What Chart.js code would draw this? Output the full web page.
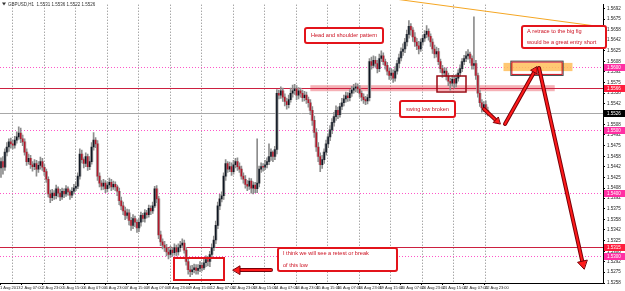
<!DOCTYPE html>
<html>
<head>
<meta charset="utf-8">
<script src="https://cdn.jsdelivr.net/npm/chart.js@4.4.1/dist/chart.umd.min.js"></script>
<style>
  html, body { margin: 0; padding: 0; background: #fff; }
  canvas { display: block; }
</style>
</head>
<body>
<canvas id="chart" width="625" height="291"></canvas>
<script>
// GBPUSD H1 candles
const symbol = 'GBPUSD,H1';

const opens = [
  1.5440, 1.5450, 1.5441, 1.5465, 1.5473, 1.5481, 1.5478, 1.5476, 1.5484, 1.5489,
  1.5495, 1.5486, 1.5481, 1.5465, 1.5450, 1.5455, 1.5445, 1.5442, 1.5447, 1.5438,
  1.5444, 1.5450, 1.5441, 1.5434, 1.5422, 1.5399, 1.5393, 1.5400, 1.5396, 1.5407,
  1.5400, 1.5394, 1.5403, 1.5399, 1.5407, 1.5402, 1.5397, 1.5403, 1.5408, 1.5411,
  1.5427, 1.5462, 1.5453, 1.5447, 1.5458, 1.5442, 1.5450, 1.5473, 1.5484, 1.5478,
  1.5427, 1.5416, 1.5411, 1.5416, 1.5407, 1.5413, 1.5417, 1.5410, 1.5414, 1.5410,
  1.5403, 1.5388, 1.5380, 1.5372, 1.5365, 1.5369, 1.5357, 1.5349, 1.5360, 1.5354,
  1.5345, 1.5354, 1.5365, 1.5360, 1.5369, 1.5366, 1.5376, 1.5372, 1.5380, 1.5407,
  1.5391, 1.5334, 1.5323, 1.5318, 1.5314, 1.5307, 1.5303, 1.5310, 1.5306, 1.5314,
  1.5307, 1.5314, 1.5318, 1.5321, 1.5310, 1.5292, 1.5279, 1.5276, 1.5279, 1.5282,
  1.5278, 1.5281, 1.5286, 1.5282, 1.5290, 1.5295, 1.5292, 1.5303, 1.5314, 1.5326,
  1.5349, 1.5380, 1.5391, 1.5396, 1.5427, 1.5447, 1.5438, 1.5442, 1.5434, 1.5445,
  1.5450, 1.5442, 1.5438, 1.5427, 1.5422, 1.5414, 1.5411, 1.5419, 1.5408, 1.5413,
  1.5407, 1.5416, 1.5438, 1.5442, 1.5441, 1.5445, 1.5450, 1.5458, 1.5465, 1.5458,
  1.5469, 1.5558, 1.5555, 1.5562, 1.5552, 1.5545, 1.5540, 1.5548, 1.5558, 1.5562,
  1.5565, 1.5555, 1.5562, 1.5558, 1.5551, 1.5555, 1.5548, 1.5543, 1.5531, 1.5515,
  1.5496, 1.5473, 1.5458, 1.5445, 1.5453, 1.5465, 1.5478, 1.5489, 1.5500, 1.5512,
  1.5521, 1.5531, 1.5524, 1.5537, 1.5543, 1.5549, 1.5554, 1.5551, 1.5558, 1.5563,
  1.5566, 1.5568, 1.5565, 1.5558, 1.5552, 1.5548, 1.5546, 1.5551, 1.5608, 1.5602,
  1.5610, 1.5605, 1.5597, 1.5613, 1.5617, 1.5608, 1.5602, 1.5593, 1.5586, 1.5590,
  1.5582, 1.5593, 1.5605, 1.5614, 1.5624, 1.5628, 1.5639, 1.5651, 1.5664, 1.5658,
  1.5647, 1.5639, 1.5633, 1.5628, 1.5639, 1.5645, 1.5651, 1.5656, 1.5648, 1.5639,
  1.5628, 1.5620, 1.5624, 1.5608, 1.5597, 1.5590, 1.5593, 1.5585, 1.5577, 1.5574,
  1.5580, 1.5574, 1.5582, 1.5590, 1.5597, 1.5608, 1.5613, 1.5617, 1.5620, 1.5613,
  1.5602, 1.5605, 1.5586, 1.5558, 1.5543, 1.5535, 1.5540, 1.5531
];
const highs = [
  1.5456, 1.5458, 1.5470, 1.5480, 1.5486, 1.5487, 1.5484, 1.5490, 1.5497, 1.5505,
  1.5503, 1.5492, 1.5486, 1.5470, 1.5462, 1.5460, 1.5450, 1.5453, 1.5452, 1.5450,
  1.5457, 1.5455, 1.5446, 1.5438, 1.5426, 1.5405, 1.5406, 1.5404, 1.5413, 1.5410,
  1.5406, 1.5408, 1.5407, 1.5412, 1.5410, 1.5405, 1.5409, 1.5414, 1.5418, 1.5432,
  1.5470, 1.5468, 1.5456, 1.5464, 1.5462, 1.5458, 1.5480, 1.5496, 1.5488, 1.5483,
  1.5432, 1.5420, 1.5422, 1.5420, 1.5418, 1.5424, 1.5422, 1.5419, 1.5418, 1.5413,
  1.5408, 1.5394, 1.5386, 1.5378, 1.5375, 1.5374, 1.5362, 1.5366, 1.5364, 1.5358,
  1.5360, 1.5370, 1.5368, 1.5374, 1.5373, 1.5381, 1.5380, 1.5386, 1.5411, 1.5412,
  1.5395, 1.5340, 1.5328, 1.5324, 1.5319, 1.5313, 1.5316, 1.5314, 1.5320, 1.5318,
  1.5320, 1.5324, 1.5328, 1.5326, 1.5314, 1.5297, 1.5285, 1.5286, 1.5288, 1.5287,
  1.5287, 1.5292, 1.5290, 1.5296, 1.5301, 1.5300, 1.5308, 1.5320, 1.5332, 1.5356,
  1.5386, 1.5398, 1.5402, 1.5432, 1.5453, 1.5450, 1.5449, 1.5448, 1.5452, 1.5455,
  1.5456, 1.5448, 1.5443, 1.5432, 1.5428, 1.5420, 1.5424, 1.5423, 1.5418, 1.5417,
  1.5486, 1.5443, 1.5448, 1.5447, 1.5452, 1.5456, 1.5478, 1.5470, 1.5467, 1.5474,
  1.5564, 1.5563, 1.5568, 1.5566, 1.5557, 1.5550, 1.5555, 1.5566, 1.5571, 1.5572,
  1.5570, 1.5567, 1.5566, 1.5563, 1.5561, 1.5560, 1.5552, 1.5548, 1.5537, 1.5522,
  1.5502, 1.5480, 1.5464, 1.5460, 1.5470, 1.5484, 1.5494, 1.5507, 1.5518, 1.5528,
  1.5538, 1.5536, 1.5542, 1.5550, 1.5555, 1.5560, 1.5559, 1.5564, 1.5569, 1.5572,
  1.5574, 1.5573, 1.5570, 1.5562, 1.5557, 1.5553, 1.5556, 1.5613, 1.5615, 1.5617,
  1.5616, 1.5610, 1.5620, 1.5625, 1.5622, 1.5612, 1.5607, 1.5598, 1.5597, 1.5595,
  1.5600, 1.5610, 1.5620, 1.5630, 1.5636, 1.5645, 1.5658, 1.5673, 1.5668, 1.5662,
  1.5654, 1.5645, 1.5640, 1.5644, 1.5650, 1.5657, 1.5665, 1.5660, 1.5652, 1.5644,
  1.5634, 1.5631, 1.5629, 1.5612, 1.5602, 1.5598, 1.5598, 1.5590, 1.5582, 1.5586,
  1.5585, 1.5588, 1.5595, 1.5603, 1.5613, 1.5618, 1.5624, 1.5627, 1.5623, 1.5617,
  1.5679, 1.5610, 1.5590, 1.5563, 1.5548, 1.5545, 1.5546, 1.5536
];
const lows = [
  1.5425, 1.5430, 1.5436, 1.5459, 1.5466, 1.5471, 1.5470, 1.5471, 1.5479, 1.5485,
  1.5480, 1.5475, 1.5460, 1.5444, 1.5446, 1.5439, 1.5435, 1.5437, 1.5427, 1.5433,
  1.5438, 1.5436, 1.5428, 1.5417, 1.5394, 1.5385, 1.5388, 1.5390, 1.5391, 1.5394,
  1.5388, 1.5390, 1.5393, 1.5395, 1.5397, 1.5390, 1.5393, 1.5399, 1.5404, 1.5407,
  1.5422, 1.5448, 1.5440, 1.5442, 1.5436, 1.5437, 1.5446, 1.5468, 1.5472, 1.5420,
  1.5410, 1.5405, 1.5406, 1.5401, 1.5402, 1.5408, 1.5404, 1.5406, 1.5404, 1.5396,
  1.5382, 1.5374, 1.5366, 1.5358, 1.5360, 1.5350, 1.5341, 1.5344, 1.5347, 1.5338,
  1.5339, 1.5348, 1.5355, 1.5354, 1.5361, 1.5362, 1.5366, 1.5368, 1.5377, 1.5385,
  1.5328, 1.5317, 1.5312, 1.5308, 1.5301, 1.5296, 1.5299, 1.5300, 1.5302, 1.5301,
  1.5302, 1.5308, 1.5314, 1.5305, 1.5286, 1.5272, 1.5268, 1.5271, 1.5274, 1.5272,
  1.5272, 1.5276, 1.5277, 1.5279, 1.5284, 1.5285, 1.5284, 1.5298, 1.5309, 1.5320,
  1.5344, 1.5374, 1.5386, 1.5390, 1.5420, 1.5433, 1.5434, 1.5428, 1.5430, 1.5440,
  1.5436, 1.5433, 1.5422, 1.5416, 1.5408, 1.5404, 1.5406, 1.5400, 1.5399, 1.5401,
  1.5401, 1.5410, 1.5433, 1.5435, 1.5437, 1.5440, 1.5445, 1.5452, 1.5450, 1.5453,
  1.5462, 1.5549, 1.5550, 1.5545, 1.5538, 1.5533, 1.5535, 1.5544, 1.5552, 1.5556,
  1.5548, 1.5549, 1.5552, 1.5545, 1.5546, 1.5542, 1.5536, 1.5524, 1.5507, 1.5488,
  1.5466, 1.5450, 1.5434, 1.5439, 1.5447, 1.5460, 1.5472, 1.5483, 1.5494, 1.5506,
  1.5515, 1.5518, 1.5520, 1.5532, 1.5538, 1.5544, 1.5545, 1.5546, 1.5553, 1.5558,
  1.5560, 1.5559, 1.5552, 1.5546, 1.5542, 1.5540, 1.5541, 1.5546, 1.5596, 1.5598,
  1.5600, 1.5590, 1.5592, 1.5608, 1.5603, 1.5596, 1.5587, 1.5580, 1.5580, 1.5575,
  1.5577, 1.5588, 1.5598, 1.5609, 1.5618, 1.5622, 1.5633, 1.5645, 1.5650, 1.5640,
  1.5632, 1.5627, 1.5620, 1.5624, 1.5634, 1.5640, 1.5646, 1.5642, 1.5632, 1.5621,
  1.5614, 1.5615, 1.5603, 1.5591, 1.5583, 1.5585, 1.5579, 1.5570, 1.5563, 1.5569,
  1.5566, 1.5568, 1.5577, 1.5585, 1.5592, 1.5603, 1.5608, 1.5612, 1.5606, 1.5596,
  1.5596, 1.5580, 1.5552, 1.5537, 1.5528, 1.5529, 1.5524, 1.5522
];
const closes = [
  1.5450, 1.5441, 1.5465, 1.5473, 1.5481, 1.5478, 1.5476, 1.5484, 1.5489, 1.5495,
  1.5486, 1.5481, 1.5465, 1.5450, 1.5455, 1.5445, 1.5442, 1.5447, 1.5438, 1.5444,
  1.5450, 1.5441, 1.5434, 1.5422, 1.5399, 1.5393, 1.5400, 1.5396, 1.5407, 1.5400,
  1.5394, 1.5403, 1.5399, 1.5407, 1.5402, 1.5397, 1.5403, 1.5408, 1.5411, 1.5427,
  1.5462, 1.5453, 1.5447, 1.5458, 1.5442, 1.5450, 1.5473, 1.5484, 1.5478, 1.5427,
  1.5416, 1.5411, 1.5416, 1.5407, 1.5413, 1.5417, 1.5410, 1.5414, 1.5410, 1.5403,
  1.5388, 1.5380, 1.5372, 1.5365, 1.5369, 1.5357, 1.5349, 1.5360, 1.5354, 1.5345,
  1.5354, 1.5365, 1.5360, 1.5369, 1.5366, 1.5376, 1.5372, 1.5380, 1.5407, 1.5391,
  1.5334, 1.5323, 1.5318, 1.5314, 1.5307, 1.5303, 1.5310, 1.5306, 1.5314, 1.5307,
  1.5314, 1.5318, 1.5321, 1.5310, 1.5292, 1.5279, 1.5276, 1.5279, 1.5282, 1.5278,
  1.5281, 1.5286, 1.5282, 1.5290, 1.5295, 1.5292, 1.5303, 1.5314, 1.5326, 1.5349,
  1.5380, 1.5391, 1.5396, 1.5427, 1.5447, 1.5438, 1.5442, 1.5434, 1.5445, 1.5450,
  1.5442, 1.5438, 1.5427, 1.5422, 1.5414, 1.5411, 1.5419, 1.5408, 1.5413, 1.5407,
  1.5416, 1.5438, 1.5442, 1.5441, 1.5445, 1.5450, 1.5458, 1.5465, 1.5458, 1.5469,
  1.5558, 1.5555, 1.5562, 1.5552, 1.5545, 1.5540, 1.5548, 1.5558, 1.5562, 1.5565,
  1.5555, 1.5562, 1.5558, 1.5551, 1.5555, 1.5548, 1.5543, 1.5531, 1.5515, 1.5496,
  1.5473, 1.5458, 1.5445, 1.5453, 1.5465, 1.5478, 1.5489, 1.5500, 1.5512, 1.5521,
  1.5531, 1.5524, 1.5537, 1.5543, 1.5549, 1.5554, 1.5551, 1.5558, 1.5563, 1.5566,
  1.5568, 1.5565, 1.5558, 1.5552, 1.5548, 1.5546, 1.5551, 1.5608, 1.5602, 1.5610,
  1.5605, 1.5597, 1.5613, 1.5617, 1.5608, 1.5602, 1.5593, 1.5586, 1.5590, 1.5582,
  1.5593, 1.5605, 1.5614, 1.5624, 1.5628, 1.5639, 1.5651, 1.5664, 1.5658, 1.5647,
  1.5639, 1.5633, 1.5628, 1.5639, 1.5645, 1.5651, 1.5656, 1.5648, 1.5639, 1.5628,
  1.5620, 1.5624, 1.5608, 1.5597, 1.5590, 1.5593, 1.5585, 1.5577, 1.5574, 1.5580,
  1.5574, 1.5582, 1.5590, 1.5597, 1.5608, 1.5613, 1.5617, 1.5620, 1.5613, 1.5602,
  1.5605, 1.5586, 1.5558, 1.5543, 1.5535, 1.5540, 1.5531, 1.5526
];

const timeLabels = [
  '1 Aug 2013', '2 Aug 07:00', '2 Aug 23:00', '5 Aug 15:00', '6 Aug 07:00', '6 Aug 23:00',
  '7 Aug 15:00', '8 Aug 07:00', '8 Aug 23:00', '9 Aug 15:00', '12 Aug 07:00', '12 Aug 23:00',
  '13 Aug 15:00', '14 Aug 07:00', '14 Aug 23:00', '15 Aug 15:00', '16 Aug 07:00', '16 Aug 23:00',
  '19 Aug 15:00', '20 Aug 07:00', '20 Aug 23:00', '21 Aug 15:00', '22 Aug 07:00', '22 Aug 23:00'
];
const priceTicks = [
  1.5258, 1.5275, 1.5292, 1.5308, 1.5325, 1.5342, 1.5358, 1.5375, 1.5392,
  1.5408, 1.5425, 1.5442, 1.5458, 1.5475, 1.5492, 1.5508, 1.5525, 1.5542,
  1.5558, 1.5575, 1.5592, 1.5608, 1.5625, 1.5642, 1.5658, 1.5675, 1.5692
];
const bigFigures = [1.5300, 1.5400, 1.5500, 1.5600];
const necklinePrice = 1.5566;
const retestPrice = 1.5315;
const bidPrice = closes[closes.length - 1];

// layout of the MT4 window (slots include the empty shift area on the right)
const totalSlots = 306;
const labelStep = 10.7;
const gridStart = 5.6, gridStep = 16;

const wicks = lows.map((l, i) => ({ x: i, y: [l, highs[i]] }));
const bodies = opens.map((o, i) => ({ x: i, y: [o, closes[i]] }));
const bodyColors = opens.map((o, i) => closes[i] >= o ? '#0e1622' : '#b3182b');

function arrow(ctx, x0, y0, x1, y1, head) {
  const a = Math.atan2(y1 - y0, x1 - x0);
  const bx = x1 - Math.cos(a) * head, by = y1 - Math.sin(a) * head;
  ctx.lineCap = 'round';
  ctx.strokeStyle = '#7a0008'; ctx.lineWidth = 4;
  ctx.beginPath(); ctx.moveTo(x0, y0); ctx.lineTo(bx, by); ctx.stroke();
  ctx.strokeStyle = '#ff1a1a'; ctx.lineWidth = 2;
  ctx.beginPath(); ctx.moveTo(x0, y0); ctx.lineTo(bx, by); ctx.stroke();
  ctx.beginPath();
  ctx.moveTo(x1, y1);
  ctx.lineTo(bx + Math.cos(a + Math.PI / 2) * head * 0.6, by + Math.sin(a + Math.PI / 2) * head * 0.6);
  ctx.lineTo(bx + Math.cos(a - Math.PI / 2) * head * 0.6, by + Math.sin(a - Math.PI / 2) * head * 0.6);
  ctx.closePath();
  ctx.fillStyle = '#ff1a1a'; ctx.fill();
  ctx.strokeStyle = '#7a0008'; ctx.lineWidth = 1; ctx.stroke();
}

function noteBox(ctx, x0, y0, x1, y1, lines, align) {
  ctx.beginPath();
  ctx.roundRect(x0, y0, x1 - x0, y1 - y0, 2);
  ctx.fillStyle = '#fff'; ctx.fill();
  ctx.strokeStyle = '#e3141b'; ctx.lineWidth = 2; ctx.stroke();
  ctx.fillStyle = '#cc1020';
  ctx.font = '5.6px "Liberation Sans", Arial, sans-serif';
  ctx.textBaseline = 'middle';
  const lh = (y1 - y0) / lines.length;
  lines.forEach((t, k) => {
    const ty = y0 + lh * (k + 0.5);
    if (align === 'left') { ctx.textAlign = 'left'; ctx.fillText(t, x0 + 5, ty); }
    else { ctx.textAlign = 'center'; ctx.fillText(t, (x0 + x1) / 2, ty); }
  });
}

const overlay = {
  id: 'overlay',
  beforeDatasetsDraw(chart) {
    const { ctx, chartArea: a, scales: { x, y } } = chart;
    ctx.save();
    ctx.lineWidth = 1;
    // vertical dotted grid
    ctx.strokeStyle = '#808080';
    ctx.setLineDash([1, 2]);
    for (let s = gridStart; s < closes.length; s += gridStep) {
      const px = Math.round(x.getPixelForValue(s)) + 0.5;
      ctx.beginPath(); ctx.moveTo(px, a.top); ctx.lineTo(px, a.bottom); ctx.stroke();
    }
    // big figures, pink dotted
    ctx.strokeStyle = '#ff55c8';
    bigFigures.forEach(p => {
      const py = Math.round(y.getPixelForValue(p)) + 0.5;
      ctx.beginPath(); ctx.moveTo(a.left, py); ctx.lineTo(a.right, py); ctx.stroke();
    });
    ctx.setLineDash([]);
    // bid line
    const by = Math.round(y.getPixelForValue(bidPrice)) + 0.5;
    ctx.strokeStyle = '#a8a8a8';
    ctx.beginPath(); ctx.moveTo(a.left, by); ctx.lineTo(a.right, by); ctx.stroke();
    // neckline band
    const ny = y.getPixelForValue(necklinePrice);
    ctx.fillStyle = 'rgba(236, 100, 110, 0.5)';
    ctx.fillRect(x.getPixelForValue(157), ny - 3, x.getPixelForValue(281) - x.getPixelForValue(157), 6);
    // thin red horizontal lines
    ctx.strokeStyle = '#cc2040';
    [necklinePrice, retestPrice].forEach(p => {
      const py = Math.round(y.getPixelForValue(p)) + 0.5;
      ctx.beginPath(); ctx.moveTo(a.left, py); ctx.lineTo(a.right, py); ctx.stroke();
    });
    // orange zone at the big figure
    const z0 = x.getPixelForValue(255), z1 = x.getPixelForValue(290);
    const zt = y.getPixelForValue(1.5606), zb = y.getPixelForValue(1.5593);
    ctx.fillStyle = 'rgba(255, 190, 90, 0.85)';
    ctx.fillRect(z0, zt, z1 - z0, zb - zt);
    ctx.restore();
  },
  afterDatasetsDraw(chart) {
    const { ctx, scales: { x, y } } = chart;
    ctx.save();
    // orange trend line
    ctx.strokeStyle = '#f5a623'; ctx.lineWidth = 1;
    ctx.beginPath(); ctx.moveTo(380, -3); ctx.lineTo(603, 27); ctx.stroke();
    // box around the retrace zone
    const b0 = x.getPixelForValue(259), b1 = x.getPixelForValue(285);
    const bt = y.getPixelForValue(1.5608), bb = y.getPixelForValue(1.5587);
    ctx.strokeStyle = '#34484a'; ctx.lineWidth = 1;
    ctx.strokeRect(b0 - 0.5, bt - 0.5, b1 - b0 + 1, bb - bt + 1);
    ctx.strokeStyle = '#d4101c';
    ctx.strokeRect(b0 + 0.5, bt + 0.5, b1 - b0 - 1, bb - bt - 1);
    // swing low box
    ctx.strokeStyle = '#9b0a14'; ctx.lineWidth = 1.5;
    ctx.strokeRect(437, 76, 29, 16);
    // low box
    ctx.strokeStyle = '#e3141b'; ctx.lineWidth = 2;
    ctx.strokeRect(174, 258, 50, 22);
    // arrows
    arrow(ctx, 271, 270, 233, 270, 7);
    arrow(ctx, 484, 109, 500, 124, 6);
    arrow(ctx, 505, 124, 537, 67, 6);
    arrow(ctx, 539, 68, 584, 269, 8);
    // notes
    noteBox(ctx, 305, 28, 383, 43, ['Head and shoulder pattern']);
    noteBox(ctx, 522, 26, 606, 48, ['A retrace to the big fig', 'would be a great entry short'], 'left');
    noteBox(ctx, 400, 101, 455, 117, ['swing low broken']);
    noteBox(ctx, 278, 248, 397, 271, ['I think we will see a retest or break', 'of this low'], 'left');
    ctx.restore();
  },
  afterDraw(chart) {
    const { ctx, chartArea: a, scales: { y } } = chart;
    ctx.save();
    // price tags on the right axis
    const tags = [
      [1.5600, '#ff2fa3'], [necklinePrice, '#ff1c3c'], [bidPrice, '#000000'],
      [1.5500, '#ff2fa3'], [1.5400, '#ff2fa3'], [retestPrice, '#ff1c3c'], [1.5300, '#ff2fa3']
    ];
    ctx.font = '4.5px "Liberation Sans", Arial, sans-serif';
    ctx.textAlign = 'left'; ctx.textBaseline = 'middle';
    tags.forEach(([p, c]) => {
      const py = Math.round(y.getPixelForValue(p));
      ctx.fillStyle = c;
      ctx.fillRect(a.right + 1, py - 3, 21, 7);
      ctx.fillStyle = '#fff';
      ctx.fillText(p.toFixed(4), a.right + 4, py + 0.5);
    });
    // header with the last bar
    const n = closes.length - 1;
    ctx.fillStyle = '#333';
    ctx.beginPath(); ctx.moveTo(2, 2.5); ctx.lineTo(6, 2.5); ctx.lineTo(4, 5.5); ctx.closePath(); ctx.fill();
    ctx.fillText(symbol + '  ' + [opens[n], highs[n], lows[n], closes[n]].map(v => v.toFixed(4)).join(' '), 8, 4.5);
    ctx.restore();
  }
};

const ctx = document.getElementById('chart').getContext('2d');
new Chart(ctx, {
  type: 'bar',
  data: {
    datasets: [
      // coloured core of each body
      { data: bodies, backgroundColor: bodyColors, barThickness: 0.9, grouped: false, order: 0, minBarLength: 1 },
      // grey outline around the body
      { data: bodies, backgroundColor: '#a6a6a6', barThickness: 2.6, grouped: false, order: 1, minBarLength: 1 },
      // wick
      { data: wicks, backgroundColor: '#8c8c8c', barThickness: 1, grouped: false, order: 2 }
    ]
  },
  options: {
    responsive: false,
    animation: false,
    devicePixelRatio: 1,
    layout: { padding: 0 },
    plugins: { legend: { display: false }, tooltip: { enabled: false } },
    scales: {
      x: {
        type: 'linear',
        offset: false,
        min: -0.5,
        max: totalSlots - 0.5,
        grid: { offset: false, drawOnChartArea: false, tickLength: 2, color: '#000' },
        border: { color: '#000' },
        afterBuildTicks: axis => { axis.ticks = timeLabels.map((t, i) => ({ value: i * labelStep - 0.5 })); },
        ticks: {
          callback: (v, i) => timeLabels[i],
          align: 'start', autoSkip: false, maxRotation: 0, padding: 0,
          font: { size: 4, family: 'Liberation Sans' }, color: '#222'
        },
        afterFit: axis => { axis.height = 8; }
      },
      y: {
        position: 'right',
        min: 1.5258,
        max: 1.5698,
        beginAtZero: false,
        grid: { drawOnChartArea: false, tickLength: 2, color: '#000' },
        border: { color: '#000' },
        afterBuildTicks: axis => { axis.ticks = priceTicks.map(v => ({ value: v })); },
        ticks: {
          callback: v => v.toFixed(4),
          padding: 2,
          font: { size: 4.5, family: 'Liberation Sans' }, color: '#222'
        },
        afterFit: axis => { axis.width = 22; }
      }
    }
  },
  plugins: [overlay]
});
</script>
</body>
</html>
